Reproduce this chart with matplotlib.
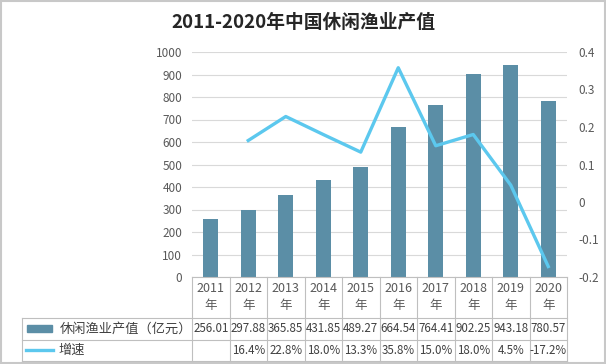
import matplotlib
matplotlib.use("Agg")
import matplotlib.pyplot as plt
from matplotlib.lines import Line2D
from matplotlib.patches import Rectangle
import numpy as np

plt.rcParams['font.family'] = ['Noto Sans CJK SC', 'DejaVu Sans']

years = ['2011', '2012', '2013', '2014', '2015', '2016', '2017', '2018', '2019', '2020']
output_value = [256.01, 297.88, 365.85, 431.85, 489.27, 664.54, 764.41, 902.25, 943.18, 780.57]
growth = [np.nan, 0.164, 0.228, 0.180, 0.133, 0.358, 0.150, 0.180, 0.045, -0.172]
growth_labels = ['', '16.4%', '22.8%', '18.0%', '13.3%', '35.8%', '15.0%', '18.0%', '4.5%', '-17.2%']
bar_name = '休闲渔业产值（亿元）'
line_name = '增速'
title = '2011-2020年中国休闲渔业产值'

W, H = 606, 364
fig = plt.figure(figsize=(W / 100, H / 100), dpi=100)

bar_color = '#5b8ea6'
line_color = '#5cc8ee'
grid_color = '#d9d9d9'
text_color = '#595959'
tab_color = '#bfbfbf'

x0, x1 = 192, 567
ytop, ybot = 52, 277
ax = fig.add_axes([x0 / W, 1 - ybot / H, (x1 - x0) / W, (ybot - ytop) / H])
x = np.arange(len(years))
ax.bar(x, output_value, width=0.4, color=bar_color, zorder=2)
ax.set_xlim(-0.5, len(years) - 0.5)
ax.set_ylim(0, 1000)
ax.set_yticks(np.arange(0, 1001, 100))
ax.yaxis.grid(True, color=grid_color, linewidth=0.8, zorder=0)
ax.set_xticks([])
for s in ['top', 'right', 'left']:
    ax.spines[s].set_visible(False)
ax.spines['bottom'].set_color(tab_color)
ax.tick_params(axis='y', length=0, colors=text_color, labelsize=8.5, pad=7)

ax2 = ax.twinx()
ax2.plot(x, growth, color=line_color, linewidth=2.4, zorder=3)
ax2.set_ylim(-0.2, 0.4)
ax2.set_yticks(np.round(np.arange(-0.2, 0.41, 0.1), 1))
ax2.set_yticklabels(['-0.2', '-0.1', '0', '0.1', '0.2', '0.3', '0.4'])
for s in ['top', 'right', 'left', 'bottom']:
    ax2.spines[s].set_visible(False)
ax2.tick_params(axis='y', length=0, colors=text_color, labelsize=8.5, pad=8)

# Title
fig.text(0.5, 1 - 22 / H, title, ha='center', va='center', fontsize=13.5,
         fontweight='bold', color='#262626')

# Data table below the chart
def fy(py):
    return 1 - py / H

def fx(px):
    return px / W

col_w = (x1 - x0) / len(years)
row_top = ybot
row1 = 318
row2 = 340
row3 = 361
tab_left = 22

lines_spec = []
for i in range(len(years) + 1):
    xx = x0 + i * col_w
    lines_spec.append(([xx, xx], [row_top, row3]))
lines_spec.append(([tab_left, tab_left], [row1, row3]))
for yy in [row1, row2, row3]:
    lines_spec.append(([tab_left, x1], [yy, yy]))
for xs, ys in lines_spec:
    fig.add_artist(Line2D([fx(v) for v in xs], [fy(v) for v in ys],
                          color=tab_color, linewidth=0.8))

for i, yr in enumerate(years):
    cx = x0 + (i + 0.5) * col_w
    fig.text(fx(cx), fy(288), yr, ha='center', va='center', fontsize=9, color=text_color)
    fig.text(fx(cx), fy(306), '年', ha='center', va='center', fontsize=9, color=text_color)
    fig.text(fx(cx), fy((row1 + row2) / 2), f'{output_value[i]:.2f}', ha='center', va='center',
             fontsize=8.3, color='#404040')
    fig.text(fx(cx), fy((row2 + row3) / 2), growth_labels[i], ha='center', va='center',
             fontsize=8.3, color='#404040')

# legend keys
fig.add_artist(Rectangle((fx(27), fy(332)), fx(52) - fx(27), fy(325) - fy(332),
                         color=bar_color, transform=fig.transFigure))
fig.add_artist(Line2D([fx(26), fx(53)], [fy(350), fy(350)], color=line_color, linewidth=2.4))
fig.text(fx(60), fy((row1 + row2) / 2), bar_name, ha='left', va='center', fontsize=9.5, color='#404040')
fig.text(fx(58), fy((row2 + row3) / 2), line_name, ha='left', va='center', fontsize=9.5, color='#404040')

# outer frame
fig.add_artist(Rectangle((0.0015, 0.0025), 0.997, 0.995, fill=False, edgecolor='#c8c8c8',
                         linewidth=1.5, transform=fig.transFigure))

fig.savefig('out.png', dpi=100)
